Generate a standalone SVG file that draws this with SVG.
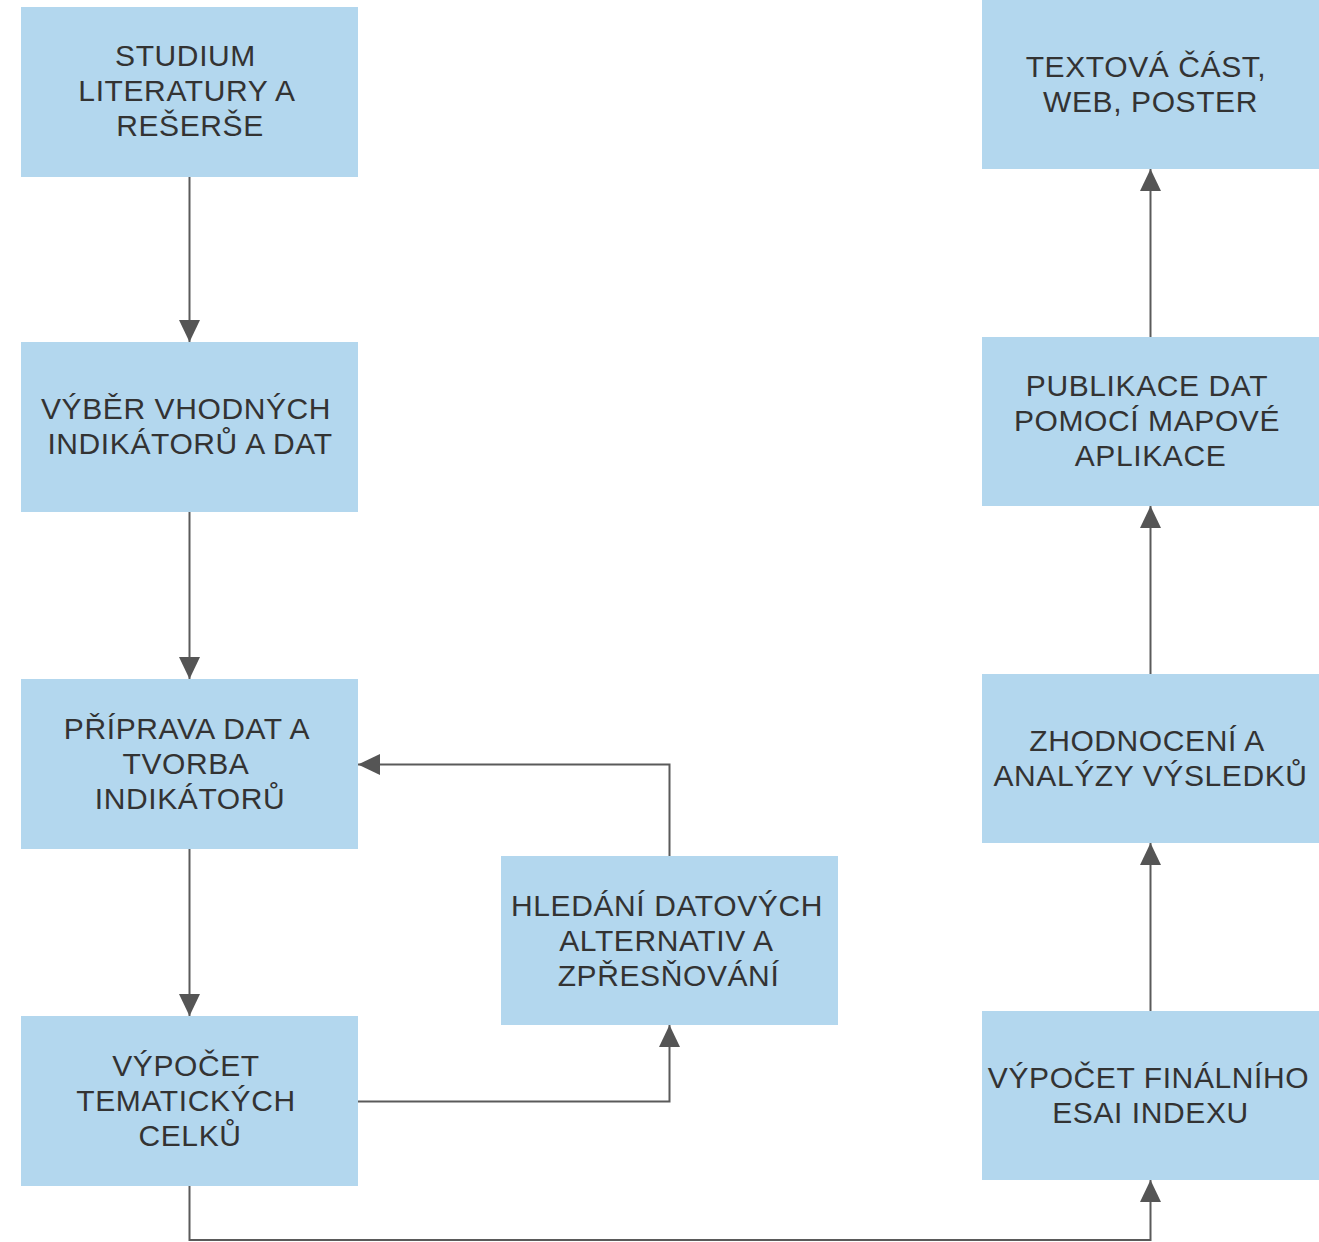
<svg xmlns="http://www.w3.org/2000/svg" width="1319" height="1242" viewBox="0 0 1319 1242">
<defs>
<marker id="arr" viewBox="0 0 22 21" refX="22" refY="10.5" markerWidth="22" markerHeight="21" markerUnits="userSpaceOnUse" orient="auto">
<path d="M0,0 L22,10.5 L0,21 Z" fill="#555555"/>
</marker>
<style>
.box{fill:#b3d7ee;}
.t{font-family:'Liberation Sans', Arial, Helvetica, sans-serif;font-size:30px;letter-spacing:0.6px;fill:#333333;text-anchor:middle;}
.c{fill:none;stroke:#5a5a5a;stroke-width:2;}
</style>
</defs>
<rect width="1319" height="1242" fill="#ffffff"/>
<g id="connectors">
<path class="c" d="M189.5,177 V342" marker-end="url(#arr)"/>
<path class="c" d="M189.5,512 V679" marker-end="url(#arr)"/>
<path class="c" d="M189.5,849 V1016" marker-end="url(#arr)"/>
<path class="c" d="M358,1101.5 H669.5 V1025" marker-end="url(#arr)"/>
<path class="c" d="M669.5,856 V764.5 H358" marker-end="url(#arr)"/>
<path class="c" d="M189.5,1186 V1240 H1150.5 V1180" marker-end="url(#arr)"/>
<path class="c" d="M1150.5,1011 V843" marker-end="url(#arr)"/>
<path class="c" d="M1150.5,674 V506" marker-end="url(#arr)"/>
<path class="c" d="M1150.5,337 V169" marker-end="url(#arr)"/>
</g>
<g id="n1"><rect class="box" x="21" y="7" width="337" height="170"/>
<text class="t"><tspan x="185.5" y="66">STUDIUM</tspan><tspan x="187" y="101">LITERATURY A</tspan><tspan x="190" y="136">REŠERŠE</tspan></text></g>
<g id="n2"><rect class="box" x="21" y="342" width="337" height="170"/>
<text class="t"><tspan x="186" y="419">VÝBĚR VHODNÝCH</tspan><tspan x="190" y="454">INDIKÁTORŮ A DAT</tspan></text></g>
<g id="n3"><rect class="box" x="21" y="679" width="337" height="170"/>
<text class="t"><tspan x="187" y="739">PŘÍPRAVA DAT A</tspan><tspan x="186" y="774">TVORBA</tspan><tspan x="190" y="809">INDIKÁTORŮ</tspan></text></g>
<g id="n4"><rect class="box" x="21" y="1016" width="337" height="170"/>
<text class="t"><tspan x="186" y="1076">VÝPOČET</tspan><tspan x="186" y="1111">TEMATICKÝCH</tspan><tspan x="190" y="1146">CELKŮ</tspan></text></g>
<g id="n5"><rect class="box" x="501" y="856" width="337" height="169"/>
<text class="t"><tspan x="667" y="916">HLEDÁNÍ DATOVÝCH</tspan><tspan x="666.5" y="951">ALTERNATIV A</tspan><tspan x="668.5" y="986">ZPŘESŇOVÁNÍ</tspan></text></g>
<g id="n6"><rect class="box" x="982" y="0" width="337" height="169"/>
<text class="t"><tspan x="1146" y="77">TEXTOVÁ ČÁST,</tspan><tspan x="1150.5" y="112">WEB, POSTER</tspan></text></g>
<g id="n7"><rect class="box" x="982" y="337" width="337" height="169"/>
<text class="t"><tspan x="1147" y="396">PUBLIKACE DAT</tspan><tspan x="1147" y="431">POMOCÍ MAPOVÉ</tspan><tspan x="1150.5" y="466">APLIKACE</tspan></text></g>
<g id="n8"><rect class="box" x="982" y="674" width="337" height="169"/>
<text class="t"><tspan x="1147" y="751">ZHODNOCENÍ A</tspan><tspan x="1150.5" y="786">ANALÝZY VÝSLEDKŮ</tspan></text></g>
<g id="n9"><rect class="box" x="982" y="1011" width="337" height="169"/>
<text class="t"><tspan x="1148.5" y="1088">VÝPOČET FINÁLNÍHO</tspan><tspan x="1150.5" y="1123">ESAI INDEXU</tspan></text></g>
</svg>
